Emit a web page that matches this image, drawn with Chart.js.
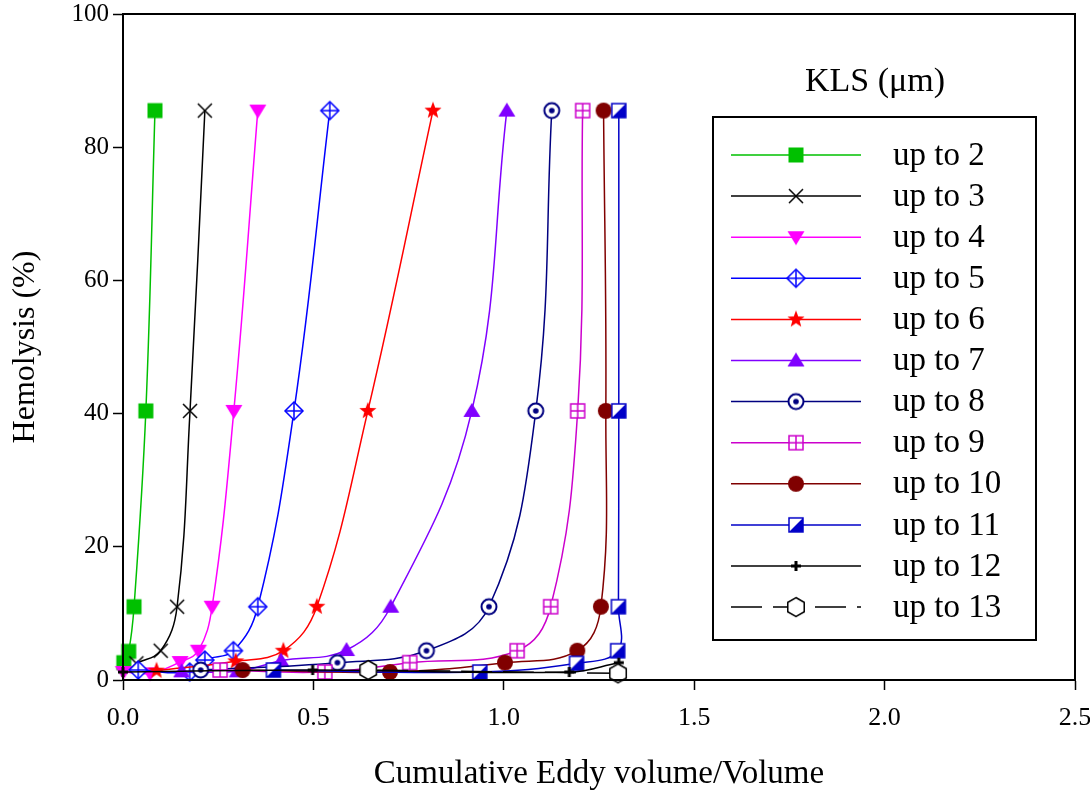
<!DOCTYPE html>
<html>
<head>
<meta charset="utf-8">
<script src="https://cdn.jsdelivr.net/npm/chart.js@4/dist/chart.umd.min.js"></script>
<style>
  html, body { margin: 0; padding: 0; background: #fff; }
  #wrap { width: 1090px; height: 792px; }
</style>
</head>
<body>
<div id="wrap"><canvas id="hemo-chart" width="1090" height="792"></canvas></div>
<script>
// values
const seriesLabels = ['up to 2', 'up to 3', 'up to 4', 'up to 5', 'up to 6', 'up to 7',
                      'up to 8', 'up to 9', 'up to 10', 'up to 11', 'up to 12', 'up to 13'];

const x2 = [0.084, 0.060, 0.029, 0.015, 0.002];
const y2 = [85.5, 40.4, 11.0, 4.3, 2.6];
const x3 = [0.215, 0.176, 0.142, 0.099, 0.035];
const y3 = [85.5, 40.4, 11.0, 4.4, 2.5];
const x4 = [0.354, 0.291, 0.234, 0.198, 0.150, 0.071, 0.001];
const y4 = [85.5, 40.4, 11.0, 4.4, 2.7, 1.0, 1.2];
const x5 = [0.543, 0.449, 0.354, 0.290, 0.215, 0.175, 0.040];
const y5 = [85.5, 40.4, 11.0, 4.4, 3.0, 1.2, 1.5];
const x6 = [0.814, 0.643, 0.509, 0.421, 0.296, 0.088];
const y6 = [85.5, 40.4, 11.0, 4.4, 2.8, 1.4];
const x7 = [1.008, 0.916, 0.703, 0.587, 0.415, 0.300, 0.154];
const y7 = [85.5, 40.4, 11.0, 4.5, 2.9, 1.3, 1.3];
const x8 = [1.126, 1.084, 0.961, 0.797, 0.563, 0.204];
const y8 = [85.5, 40.4, 11.0, 4.4, 2.6, 1.5];
const x9 = [1.207, 1.194, 1.123, 1.035, 0.753, 0.530, 0.255];
const y9 = [85.5, 40.4, 11.0, 4.4, 2.6, 1.2, 1.5];
const x10 = [1.262, 1.268, 1.255, 1.193, 1.003, 0.701, 0.314];
const y10 = [85.5, 40.4, 11.0, 4.4, 2.6, 1.2, 1.5];
const x11 = [1.302, 1.302, 1.301, 1.299, 1.191, 0.937, 0.395];
const y11 = [85.5, 40.4, 11.0, 4.4, 2.5, 1.2, 1.5];
const x12 = [1.302, 1.172, 0.498, 0.0];
const y12 = [2.6, 1.2, 1.5, 1.2];
const x13 = [1.300, 0.644];
const y13 = [1.0, 1.5];

const xSeries = [x2, x3, x4, x5, x6, x7, x8, x9, x10, x11, x12, x13];
const ySeries = [y2, y3, y4, y5, y6, y7, y8, y9, y10, y11, y12, y13];

const xTicks = [0.0, 0.5, 1.0, 1.5, 2.0, 2.5];
const yTicks = [0, 20, 40, 60, 80, 100];

// line colour + marker per series
const seriesStyles = [
    { color: '#00c000', marker: 'square' },
    { color: '#000000', marker: 'x' },
    { color: '#ff00ff', marker: 'tridown' },
    { color: '#0000ff', marker: 'diamondplus' },
    { color: '#ff0000', marker: 'star' },
    { color: '#8000ff', marker: 'triup' },
    { color: '#000080', marker: 'circledot' },
    { color: '#cc00cc', marker: 'squaregrid' },
    { color: '#800000', marker: 'disc' },
    { color: '#0000c8', marker: 'halfsquare' },
    { color: '#000000', marker: 'plus' },
    { color: '#000000', marker: 'hexagon', dash: [31, 11] }
];

const SERIF = '"Liberation Serif", "Times New Roman", serif';

// draw a marker into a small canvas so chart.js can use it as pointStyle
function makeMarker(kind, color) {
    const c = document.createElement('canvas');
    c.width = 24;
    c.height = 24;
    const g = c.getContext('2d');
    g.translate(12, 12);
    g.strokeStyle = color;
    g.fillStyle = color;
    g.lineWidth = 1.5;

    switch (kind) {
        case 'square':
            g.fillRect(-7.5, -7.5, 15, 15);
            break;
        case 'x':
            g.beginPath();
            g.moveTo(-7, -7); g.lineTo(7, 7);
            g.moveTo(-7, 7); g.lineTo(7, -7);
            g.stroke();
            break;
        case 'tridown':
            g.beginPath();
            g.moveTo(-8.5, -6); g.lineTo(8.5, -6); g.lineTo(0, 8);
            g.closePath();
            g.fill();
            break;
        case 'triup':
            g.beginPath();
            g.moveTo(-8.5, 6); g.lineTo(8.5, 6); g.lineTo(0, -8);
            g.closePath();
            g.fill();
            break;
        case 'diamondplus':
            g.beginPath();
            g.moveTo(0, -9); g.lineTo(9, 0); g.lineTo(0, 9); g.lineTo(-9, 0);
            g.closePath();
            g.fillStyle = '#fff';
            g.fill();
            g.stroke();
            g.beginPath();
            g.moveTo(0, -9); g.lineTo(0, 9);
            g.moveTo(-9, 0); g.lineTo(9, 0);
            g.stroke();
            break;
        case 'star': {
            g.beginPath();
            for (let i = 0; i < 10; i++) {
                const r = i % 2 === 0 ? 9 : 3.8;
                const a = -Math.PI / 2 + i * Math.PI / 5;
                g.lineTo(r * Math.cos(a), r * Math.sin(a));
            }
            g.closePath();
            g.fill();
            break;
        }
        case 'circledot':
            g.beginPath();
            g.arc(0, 0, 7.5, 0, Math.PI * 2);
            g.fillStyle = '#fff';
            g.fill();
            g.lineWidth = 2;
            g.stroke();
            g.beginPath();
            g.arc(0, 0, 2.8, 0, Math.PI * 2);
            g.fillStyle = color;
            g.fill();
            break;
        case 'squaregrid':
            g.fillStyle = '#fff';
            g.fillRect(-7, -7, 14, 14);
            g.strokeRect(-7, -7, 14, 14);
            g.beginPath();
            g.moveTo(0, -7); g.lineTo(0, 7);
            g.moveTo(-7, 0); g.lineTo(7, 0);
            g.stroke();
            break;
        case 'disc':
            g.beginPath();
            g.arc(0, 0, 8, 0, Math.PI * 2);
            g.fill();
            break;
        case 'halfsquare':
            g.fillStyle = '#fff';
            g.fillRect(-7, -7, 14, 14);
            g.beginPath();
            g.moveTo(7, -7); g.lineTo(7, 7); g.lineTo(-7, 7);
            g.closePath();
            g.fillStyle = color;
            g.fill();
            g.strokeRect(-7, -7, 14, 14);
            break;
        case 'plus':
            g.lineWidth = 3;
            g.beginPath();
            g.moveTo(-5, 0); g.lineTo(5, 0);
            g.moveTo(0, -5); g.lineTo(0, 5);
            g.stroke();
            break;
        case 'hexagon':
            g.beginPath();
            for (let i = 0; i < 6; i++) {
                const a = -Math.PI / 2 + i * Math.PI / 3;
                g.lineTo(9.5 * Math.cos(a), 9.5 * Math.sin(a));
            }
            g.closePath();
            g.fillStyle = '#fff';
            g.fill();
            g.stroke();
            break;
    }
    return c;
}

const markerImages = seriesStyles.map(s => makeMarker(s.marker, s.color));

const datasets = seriesLabels.map((label, i) => {
    const style = seriesStyles[i];
    return {
        label: label,
        data: xSeries[i].map((x, k) => ({ x: x, y: ySeries[i][k] })),
        showLine: true,
        borderColor: style.color,
        backgroundColor: style.color,
        borderWidth: 1.5,
        borderDash: style.dash || [],
        tension: 0.4,
        pointStyle: markerImages[i],
        pointRadius: 8,
        clip: false,
        order: seriesLabels.length - i
    };
});

// frame around the plot + SigmaPlot-style legend box
const framePlugin = {
    id: 'frame',
    afterDraw(chart) {
        const { ctx, chartArea: a } = chart;
        ctx.save();
        ctx.strokeStyle = '#000';
        ctx.lineWidth = 2;
        ctx.strokeRect(a.left, a.top, a.right - a.left, a.bottom - a.top);
        ctx.restore();
    }
};

const legendPlugin = {
    id: 'boxLegend',
    afterDraw(chart) {
        const ctx = chart.ctx;
        const box = { left: 713, top: 117, right: 1036, bottom: 640 };
        const rowTop = 155, rowStep = 41.1;
        const lineL = 731, lineR = 861, markX = 796, textX = 893;

        ctx.save();
        ctx.fillStyle = '#000';
        ctx.font = '34px ' + SERIF;
        ctx.textAlign = 'center';
        ctx.textBaseline = 'middle';
        ctx.fillText('KLS (\u03bcm)', 875, 82);

        ctx.lineWidth = 2;
        ctx.strokeStyle = '#000';
        ctx.strokeRect(box.left, box.top, box.right - box.left, box.bottom - box.top);

        ctx.font = '33px ' + SERIF;
        ctx.textAlign = 'left';
        chart.data.datasets.forEach((ds, i) => {
            const y = rowTop + i * rowStep;
            ctx.strokeStyle = ds.borderColor;
            ctx.lineWidth = 1.5;
            ctx.setLineDash(ds.borderDash || []);
            ctx.beginPath();
            ctx.moveTo(lineL, y);
            ctx.lineTo(lineR, y);
            ctx.stroke();
            ctx.setLineDash([]);
            const img = ds.pointStyle;
            ctx.drawImage(img, markX - img.width / 2, y - img.height / 2);
            ctx.fillStyle = '#000';
            ctx.fillText(ds.label, textX, y + 1);
        });
        ctx.restore();
    }
};

const ctx = document.getElementById('hemo-chart').getContext('2d');

new Chart(ctx, {
    type: 'scatter',
    data: { datasets: datasets },
    options: {
        responsive: false,
        animation: false,
        events: [],
        layout: { padding: { top: 14, right: 15, left: 0, bottom: 0 } },
        plugins: {
            legend: { display: false },
            tooltip: { enabled: false }
        },
        scales: {
            x: {
                type: 'linear',
                min: 0,
                max: 2.5,
                afterBuildTicks: scale => { scale.ticks = xTicks.map(v => ({ value: v })); },
                afterFit: scale => {
                    scale.height = 112;
                    scale.paddingLeft = 0;
                    scale.paddingRight = 0;
                },
                border: { display: true, color: '#000', width: 2 },
                grid: {
                    display: true,
                    drawOnChartArea: false,
                    drawTicks: true,
                    tickLength: 10,
                    tickColor: '#000',
                    tickWidth: 1.5
                },
                ticks: {
                    color: '#000',
                    font: { family: SERIF, size: 26 },
                    padding: 13,
                    maxRotation: 0,
                    callback: v => v.toFixed(1)
                },
                title: {
                    display: true,
                    text: 'Cumulative Eddy volume/Volume',
                    color: '#000',
                    font: { family: SERIF, size: 33, lineHeight: 1 },
                    padding: { top: 0, bottom: 1 }
                }
            },
            y: {
                type: 'linear',
                min: 0,
                max: 100,
                afterBuildTicks: scale => { scale.ticks = yTicks.map(v => ({ value: v })); },
                afterFit: scale => {
                    scale.width = 123;
                    scale.paddingTop = 0;
                    scale.paddingBottom = 0;
                },
                border: { display: true, color: '#000', width: 2 },
                grid: {
                    display: true,
                    drawOnChartArea: false,
                    drawTicks: true,
                    tickLength: 10,
                    tickColor: '#000',
                    tickWidth: 1.5
                },
                ticks: {
                    color: '#000',
                    font: { family: SERIF, size: 25 },
                    padding: 4
                },
                title: {
                    display: true,
                    text: 'Hemolysis (%)',
                    color: '#000',
                    font: { family: SERIF, size: 32 },
                    padding: { top: 6, bottom: 0 }
                }
            }
        }
    },
    plugins: [framePlugin, legendPlugin]
});
</script>
</body>
</html>
